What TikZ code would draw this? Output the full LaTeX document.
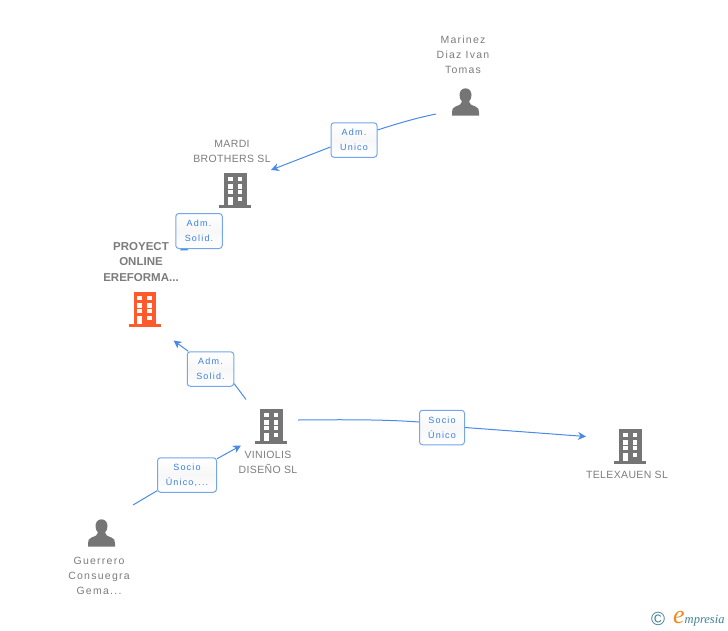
\documentclass[tikz,border=0pt]{standalone}
\usepackage{fontspec}
\setmainfont{Liberation Sans}
\newfontfamily\namefont[LetterSpace=3.5]{Liberation Sans}
\newfontfamily\personfont[LetterSpace=12]{Liberation Sans}
\newfontfamily\rolefont[LetterSpace=13]{Liberation Sans}
\newfontfamily\brandfont{Liberation Serif}
\usetikzlibrary{arrows.meta,backgrounds}
\definecolor{linkblue}{HTML}{4A8AE6}
\definecolor{boxblue}{HTML}{74A6EA}
\definecolor{roleblue}{HTML}{3B7FE0}
\definecolor{iconGray}{HTML}{757575}
\definecolor{nameGray}{HTML}{7C7C7C}
\definecolor{mainRed}{HTML}{FF5A2C}
\definecolor{brandTeal}{HTML}{3F7F95}
\definecolor{brandOrange}{HTML}{F08A1E}
\tikzset{
  entityname/.style={font=\namefont\fontsize{10.5}{15}\selectfont,text=nameGray,align=center,inner sep=0pt},
  personname/.style={font=\personfont\fontsize{10.5}{15}\selectfont,text=nameGray,align=center,inner sep=0pt},
  mainname/.style={font=\bfseries\fontsize{11.5}{15.5}\selectfont,text=nameGray,align=center,inner sep=0pt},
  rolebox/.style={draw=boxblue,line width=1pt,rounded corners=3pt,top color=white,bottom color=white,middle color=white!97!black,
    font=\rolefont\fontsize{9}{15}\selectfont,text=roleblue,align=center,inner sep=0pt},
  link/.style={draw=linkblue,line width=1pt},
  arrowlink/.style={link,-{Stealth[length=8pt,width=8pt,inset=2.5pt]}},
  pics/building/.style={code={
    \fill[#1] (-11,17) rectangle (11.5,-15);
    \fill[#1] (-16,-15) rectangle (16,-18);
    \foreach \rowy in {13.3,5.7,0,-6.7}
      {\fill[white] (-7.2,\rowy) rectangle (-2.5,\rowy-4.3);
       \fill[white] (2.7,\rowy) rectangle (7.4,\rowy-4.3);}
    \fill[white] (-7.2,-6.7) rectangle (-2.5,-15);
  }},
  pics/person/.style={code={
    \fill[iconGray] (0,17.7) .. controls (-3.8,17.7) and (-6,14.5) .. (-6,11)
      .. controls (-6,8) and (-5,6) .. (-3.5,4.5)
      .. controls (-3.5,2) and (-6,1) .. (-10,-0.5)
      .. controls (-13,-1.5) and (-13.5,-3.5) .. (-13.5,-6.5)
      -- (-13.5,-9.7) -- (13.5,-9.7) -- (13.5,-6.5)
      .. controls (13.5,-3.5) and (13,-1.5) .. (10,-0.5)
      .. controls (6,1) and (3.5,2) .. (3.5,4.5)
      .. controls (5,6) and (6,8) .. (6,11)
      .. controls (6,14.5) and (3.8,17.7) .. (0,17.7) -- cycle;
  }}
}
\begin{document}
\begin{tikzpicture}[x=1pt,y=1pt]
\useasboundingbox (0,0) rectangle (728,-630);
% names
\node[personname] (marinez) at (463,-55) {Marinez\\Diaz Ivan\\Tomas};
\node[entityname] (mardi) at (232,-151.5) {MARDI\\BROTHERS SL};
\node[mainname] (proyect) at (141,-262) {PROYECT\\ONLINE\\EREFORMA...};
\node[entityname] (viniolis) at (268,-462.5) {VINIOLIS\\DISEÑO SL};
\node[entityname] (telexauen) at (627,-475) {TELEXAUEN SL};
\node[personname] (guerrero) at (99,-576) {Guerrero\\Consuegra\\Gema...};
% icons
\pic at (465.5,-106) {person};
\pic at (235,-190) {building=iconGray};
\pic at (144.5,-309) {building=mainRed};
\pic at (271,-426) {building=iconGray};
\pic at (630,-446) {building=iconGray};
\pic at (101.5,-537) {person};
% role boxes
\node[rolebox,minimum width=46pt,minimum height=34.5pt] (admunico) at (354,-140) {Adm.\hspace{4pt}\\Unico};
\node[rolebox,minimum width=46.5pt,minimum height=35pt] (admsolidtop) at (199,-231) {Adm.\hspace{4pt}\\Solid.};
\node[rolebox,minimum width=46.5pt,minimum height=34.5pt] (admsolidlow) at (210.5,-369) {Adm.\hspace{4pt}\\Solid.};
\node[rolebox,minimum width=59pt,minimum height=34.5pt] (sociounicodots) at (187,-475) {Socio\\Único,...};
\node[rolebox,minimum width=45pt,minimum height=34.5pt] (sociounico) at (442,-427.5) {Socio\\Único};
% free ends
\coordinate (marinezend) at (436,-114);
\coordinate (marditip) at (271,-170);
\coordinate (proyecttip) at (180,-250.5);
\coordinate (proyecttiplow) at (173.5,-340.5);
\coordinate (viniolisend) at (246,-399.5);
\coordinate (guerreroend) at (133,-505);
\coordinate (viniolistip) at (241,-445.5);
\coordinate (viniolisstart) at (298,-420);
\coordinate (telexauentip) at (586,-436.5);
% connectors
\begin{scope}[on background layer]
\draw[arrowlink] (admsolidtop.center) ++(2,-8) -- (proyecttip);
\end{scope}
\draw[link] (marinezend) .. controls (416,-118) and (396,-124) .. ([yshift=10pt]admunico.east);
\draw[arrowlink] ([yshift=-7pt]admunico.west) -- (marditip);
\draw[link] (viniolisend) -- ([yshift=3pt]admsolidlow.south east);
\draw[arrowlink] ([xshift=1.5pt]admsolidlow.north west) -- (proyecttiplow);
\draw[link] (guerreroend) -- ([yshift=2pt]sociounicodots.south west);
\draw[arrowlink] ([yshift=-1.5pt]sociounicodots.north east) -- (viniolistip);
\draw[link] (viniolisstart) .. controls (345,-419.5) and (385,-419.5) .. ([yshift=5.5pt]sociounico.west);
\draw[arrowlink] (sociounico.east) -- (telexauentip);
% brand
\node[inner sep=0pt,text=brandTeal,font=\fontsize{19}{19}\selectfont] (copyr) at (658,-619) {©};
\node[inner sep=0pt,anchor=base west,text=brandTeal,font=\brandfont\itshape\fontsize{12.5}{13}\selectfont] (brand) at (673,-623) {{\color{brandOrange}\fontsize{26}{26}\selectfont e}mpresia};
\end{tikzpicture}
\end{document}
